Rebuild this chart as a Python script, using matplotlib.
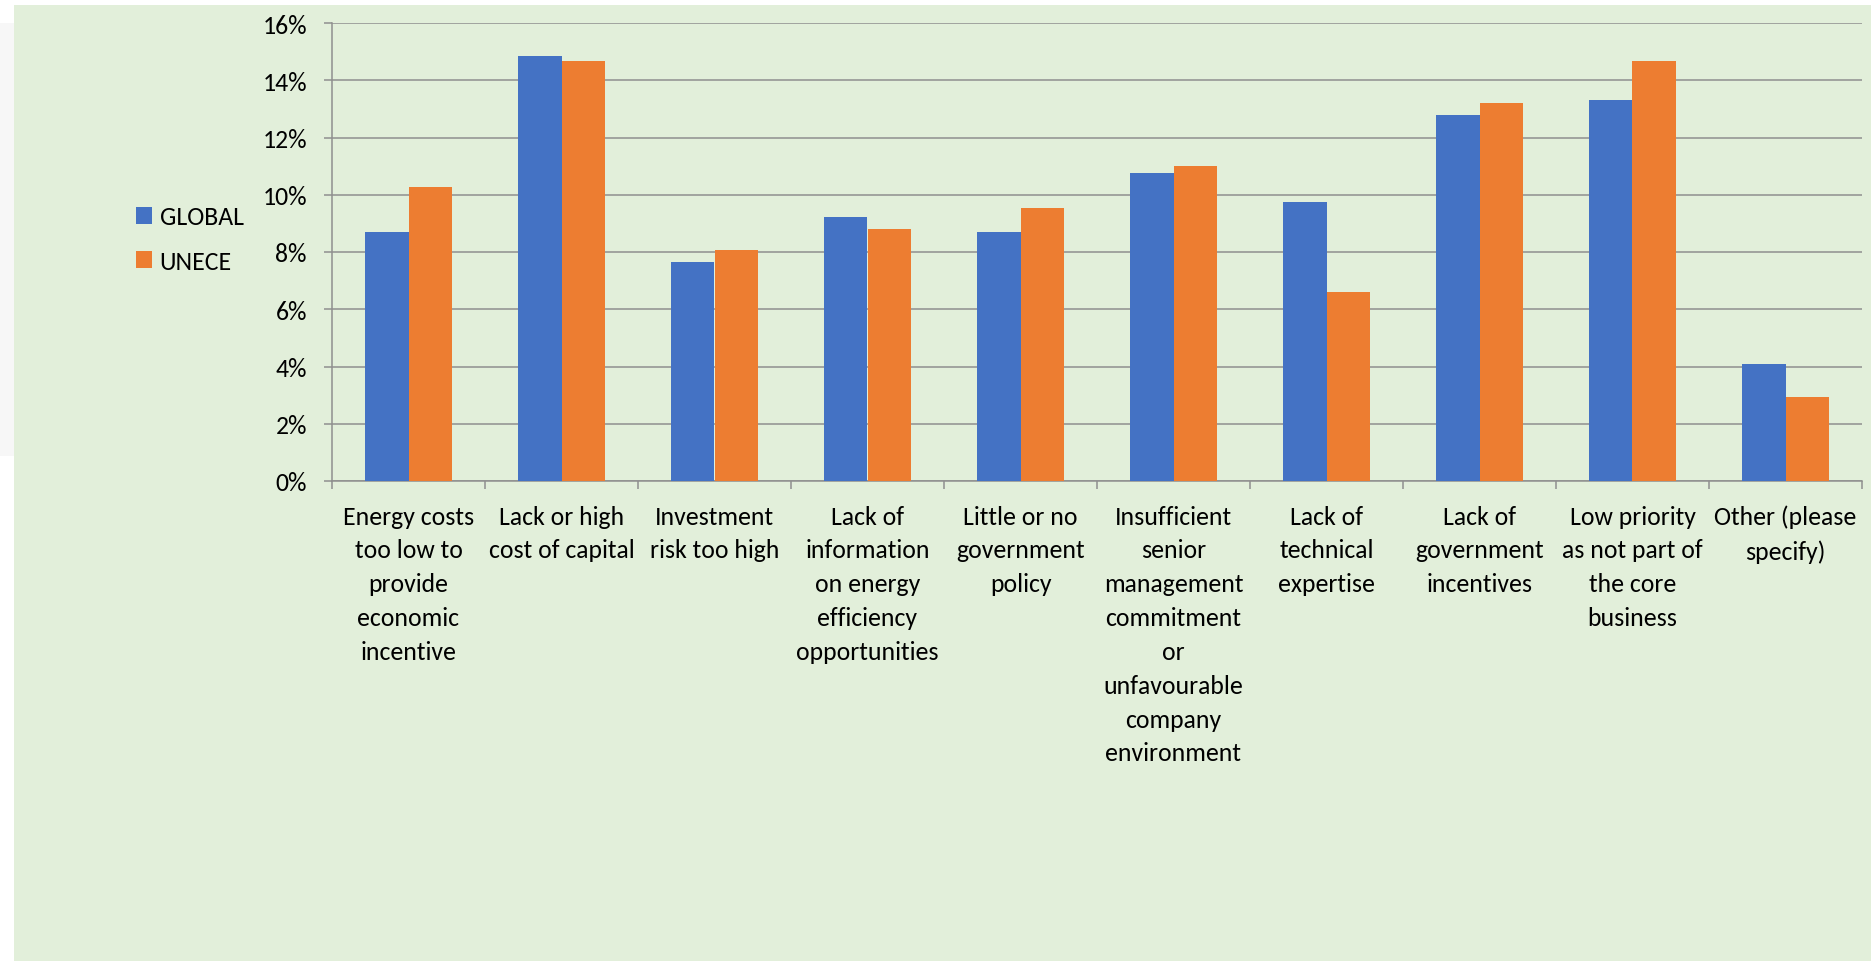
import matplotlib
matplotlib.use("Agg")
import matplotlib.pyplot as plt
import numpy as np
from matplotlib.patches import Rectangle
from matplotlib.ticker import PercentFormatter, FixedLocator

# Data (share of respondents, %)
categories = [
    "Energy costs\ntoo low to\nprovide\neconomic\nincentive",
    "Lack or high\ncost of capital",
    "Investment\nrisk too high",
    "Lack of\ninformation\non energy\nefficiency\nopportunities",
    "Little or no\ngovernment\npolicy",
    "Insufficient\nsenior\nmanagement\ncommitment\nor\nunfavourable\ncompany\nenvironment",
    "Lack of\ntechnical\nexpertise",
    "Lack of\ngovernment\nincentives",
    "Low priority\nas not part of\nthe core\nbusiness",
    "Other (please\nspecify)",
]
global_vals = [8.69, 14.84, 7.66, 9.21, 8.70, 10.75, 9.74, 12.80, 13.31, 4.08]
unece_vals = [10.27, 14.68, 8.07, 8.81, 9.54, 11.01, 6.60, 13.21, 14.68, 2.93]
series_names = ["GLOBAL", "UNECE"]

plt.rcParams['font.family'] = ['Carlito', 'Lato', 'DejaVu Sans']

W, H = 1871, 962
fig = plt.figure(figsize=(W / 100, H / 100), dpi=100, facecolor='white')

# background panels (light green chart area, pale grey strip on the left)
fig.patches.append(Rectangle((14 / W, 0), 1 - 14 / W, 1 - 6 / H, transform=fig.transFigure,
                             facecolor='#E2EFDA', edgecolor='none', zorder=-10))
fig.patches.append(Rectangle((0, 1 - 457 / H), 14 / W, (457 - 24) / H, transform=fig.transFigure,
                             facecolor='#F7F7F7', edgecolor='none', zorder=-10))

ax = fig.add_axes([332 / W, 1 - 482 / H, (1862 - 332) / W, (482 - 24) / H])
ax.set_facecolor('none')

x = np.arange(len(categories))
bw = 1 / 3.5
ax.bar(x - bw / 2, global_vals, bw, color='#4472C4', label=series_names[0], zorder=3)
ax.bar(x + bw / 2, unece_vals, bw, color='#ED7D31', label=series_names[1], zorder=3)

ax.set_xlim(-0.5, len(categories) - 0.5)
ax.set_ylim(0, 16)
ax.set_yticks(np.arange(0, 17, 2))
ax.yaxis.set_major_formatter(PercentFormatter(100, decimals=0))

grid_c = '#8F8F8F'
ax.grid(axis='y', color=grid_c, linewidth=1.1, zorder=0)
for s in ['top', 'right']:
    ax.spines[s].set_visible(False)
for s in ['left', 'bottom']:
    ax.spines[s].set_color(grid_c)
    ax.spines[s].set_linewidth(1.1)

ax.tick_params(axis='y', length=6, width=1.1, color=grid_c, pad=12, labelsize=18.5)
ax.set_xticks(x)
ax.set_xticklabels(categories, fontsize=18.5, linespacing=1.57)
ax.tick_params(axis='x', which='major', length=0, pad=17)
ax.xaxis.set_minor_locator(FixedLocator(np.arange(-0.5, len(categories), 1)))
ax.tick_params(axis='x', which='minor', length=6, width=1.1, color=grid_c)
for lab in ax.get_xticklabels():
    lab.set_verticalalignment('top')

fig.legend(loc='center left', bbox_to_anchor=(136 / W, 1 - 240 / H), frameon=False,
           fontsize=18.5, handlelength=0.62, handleheight=0.62, handletextpad=0.3,
           labelspacing=0.83, borderpad=0, borderaxespad=0)

fig.savefig('out.png', dpi=100, facecolor=fig.get_facecolor())
